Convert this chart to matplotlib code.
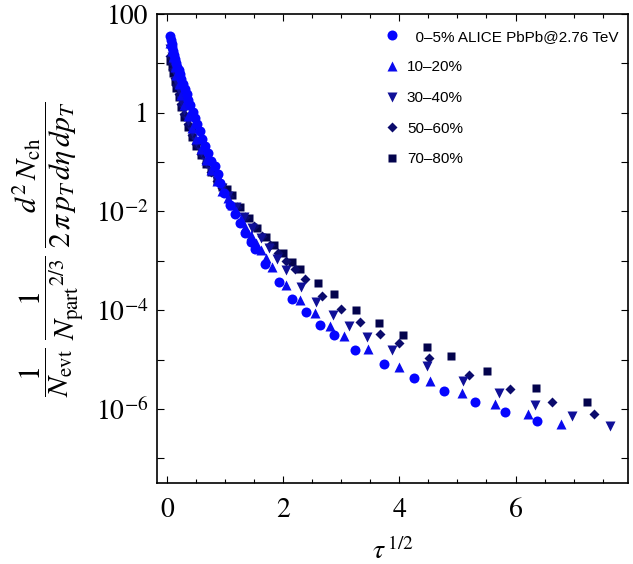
import matplotlib
matplotlib.use('Agg')
import matplotlib.pyplot as plt
import matplotlib.ticker as mticker
from matplotlib.lines import Line2D

# 0-5%  (circles)
x_c0 = [0.06, 0.07, 0.08, 0.09, 0.10, 0.12, 0.14, 0.16, 0.18, 0.20, 0.22, 0.25, 0.28,
        0.31, 0.34, 0.37, 0.40, 0.44, 0.48, 0.52, 0.56, 0.61, 0.66, 0.71, 0.76, 0.82,
        0.87, 0.92, 0.98, 1.08, 1.17, 1.26, 1.34, 1.45, 1.52, 1.69, 1.93, 2.15, 2.39,
        2.63, 2.87, 3.24, 3.74, 4.25, 4.77, 5.30, 5.82, 6.37]
y_c0 = [36, 30, 25, 21, 18, 14.5, 12, 10.2, 8.6, 7.3, 6.1, 4.8, 3.8,
        3.0, 2.35, 1.85, 1.45, 1.05, 0.78, 0.58, 0.43, 0.30, 0.21, 0.15, 0.105, 0.085,
        0.058, 0.038, 0.024, 0.0136, 0.0089, 0.0059, 0.0037, 0.0024, 0.0017, 8.6e-4,
        3.7e-4, 1.7e-4, 9.2e-5, 5.0e-5, 3.1e-5, 1.6e-5, 8.1e-6, 4.2e-6, 2.3e-6,
        1.4e-6, 8.6e-7, 5.7e-7]

# 10-20%  (up triangles)
x_c1 = [0.06, 0.08, 0.10, 0.13, 0.16, 0.20, 0.25, 0.30, 0.36, 0.43, 0.50, 0.58, 0.67,
        0.76, 0.86, 0.95, 1.05, 1.12, 1.19, 1.27, 1.35, 1.44, 1.53, 1.62, 1.71, 1.81,
        2.05, 2.29, 2.55, 2.81, 3.05, 3.46, 3.99, 4.53, 5.08, 5.65, 6.21, 6.78]
y_c1 = [26.3, 18.2, 13.2, 8.5, 5.9, 3.8, 2.3, 1.45, 0.87, 0.50, 0.30, 0.186, 0.11,
        0.068, 0.041, 0.026, 0.0186, 0.0138, 0.0100, 0.0069, 0.0049, 0.0034, 0.00234,
        0.00166, 0.00112, 7.5e-4, 3.24e-4, 1.61e-4, 8.77e-5, 4.79e-5, 3.0e-5, 1.63e-5,
        7.05e-6, 3.66e-6, 2.09e-6, 1.25e-6, 7.85e-7, 4.92e-7]

# 30-40%  (down triangles)
x_c2 = [0.06, 0.08, 0.10, 0.13, 0.16, 0.20, 0.25, 0.30, 0.36, 0.43, 0.50, 0.58, 0.67,
        0.76, 0.86, 0.95, 1.05, 1.19, 1.33, 1.47, 1.61, 1.75, 1.90, 2.05, 2.31, 2.57,
        2.86, 3.13, 3.44, 3.87, 4.48, 5.10, 5.71, 6.33, 6.97, 7.63]
y_c2 = [19.1, 13.2, 9.5, 6.3, 4.4, 2.9, 1.74, 1.12, 0.68, 0.40, 0.25, 0.158, 0.10,
        0.065, 0.042, 0.0295, 0.021, 0.0126, 0.0076, 0.0047, 0.0029, 0.00178, 0.00107,
        6.53e-4, 2.96e-4, 1.47e-4, 8.0e-5, 4.79e-5, 2.86e-5, 1.56e-5, 7.38e-6, 3.66e-6,
        2.09e-6, 1.19e-6, 7.14e-7, 4.48e-7]

# 50-60%  (diamonds)
x_c3 = [0.06, 0.08, 0.10, 0.13, 0.16, 0.20, 0.25, 0.30, 0.36, 0.43, 0.50, 0.58, 0.67,
        0.76, 0.86, 0.95, 1.07, 1.21, 1.35, 1.49, 1.63, 1.77, 1.91, 2.05, 2.20, 2.38,
        2.67, 3.00, 3.32, 3.67, 3.99, 4.51, 5.20, 5.90, 6.63, 7.35]
y_c3 = [14.1, 10.2, 7.6, 5.1, 3.6, 2.4, 1.48, 0.95, 0.59, 0.355, 0.229, 0.148, 0.095,
        0.063, 0.042, 0.030, 0.0204, 0.01245, 0.00776, 0.0050, 0.00324, 0.00214,
        0.00145, 0.0010, 6.8e-4, 4.3e-4, 1.94e-4, 1.06e-4, 5.77e-5, 3.29e-5, 2.16e-5,
        1.07e-5, 4.85e-6, 2.52e-6, 1.37e-6, 7.85e-7]

# 70-80%  (squares)
x_c4 = [0.06, 0.08, 0.10, 0.13, 0.16, 0.20, 0.25, 0.30, 0.36, 0.43, 0.50, 0.58, 0.67,
        0.76, 0.86, 0.95, 1.03, 1.12, 1.26, 1.41, 1.55, 1.70, 1.84, 2.00, 2.15, 2.29,
        2.60, 2.87, 3.25, 3.65, 4.06, 4.48, 4.89, 5.51, 6.35, 7.23]
y_c4 = [11.2, 8.3, 6.3, 4.4, 3.2, 2.1, 1.29, 0.83, 0.52, 0.32, 0.21, 0.14, 0.093,
        0.063, 0.042, 0.032, 0.028, 0.0217, 0.0124, 0.0074, 0.00465, 0.00305, 0.0021,
        0.00145, 9.5e-4, 6.85e-4, 3.56e-4, 2.13e-4, 1.01e-4, 5.5e-5, 3.14e-5, 1.79e-5,
        1.18e-5, 5.85e-6, 2.64e-6, 1.37e-6]

labels = ['  0\u20135% ALICE PbPb@2.76 TeV', '10\u201320%', '30\u201340%', '50\u201360%', '70\u201380%']
colors = ['#0505ff', '#0a0aee', '#101098', '#0b0b6c', '#03034c']
markers = ['o', '^', 'v', 'D', 's']
msizes = [7.2, 7.2, 7.2, 5.4, 6.4]

plt.rcParams['font.family'] = ['STIXGeneral', 'DejaVu Serif']
plt.rcParams['mathtext.fontset'] = 'stix'

fig = plt.figure(figsize=(6.33, 5.64), dpi=100)
ax = fig.add_axes([0.248, 0.1436, 0.744, 0.8316])

series = [(x_c0, y_c0), (x_c1, y_c1), (x_c2, y_c2), (x_c3, y_c3), (x_c4, y_c4)]
# dark ones first so the blue lies on top at the head
for i in [4, 3, 2, 1, 0]:
    xs, ys = series[i]
    ax.plot(xs, ys, linestyle='none', marker=markers[i], ms=msizes[i],
            color=colors[i], mec='none')

ax.set_yscale('log')
ax.set_xlim(-0.172, 7.935)
ax.set_ylim(10 ** -7.5, 100)

ax.xaxis.set_major_locator(mticker.FixedLocator([0, 2, 4, 6]))
ax.xaxis.set_minor_locator(mticker.MultipleLocator(0.5))
ax.yaxis.set_major_locator(mticker.FixedLocator([10.0 ** k for k in range(-7, 3)]))
ax.yaxis.set_minor_locator(mticker.NullLocator())

ylab = {2: '100', 0: '1', -2: r'$10^{-2}$', -4: r'$10^{-4}$', -6: r'$10^{-6}$'}
ax.yaxis.set_major_formatter(mticker.FixedFormatter(
    [ylab.get(k, '') for k in range(-7, 3)]))

ax.tick_params(which='both', direction='in', top=True, right=True, labelsize=20, width=0.8)
ax.tick_params(which='major', length=5)
ax.tick_params(which='minor', length=3)
ax.tick_params(axis='x', which='major', pad=11)
ax.tick_params(axis='y', which='major', pad=6)
for s in ax.spines.values():
    s.set_linewidth(1.2)

ax.set_xlabel(r'$\tau^{\,1/2}$', fontsize=20, labelpad=10)
fig.text(0.076, 0.5585,
         r'$\dfrac{1}{N_{\rm evt}}\;\dfrac{1}{{N_{\rm part}}^{2/3}}\;'
         r'\dfrac{d^2\,N_{\rm ch}}{2\,\pi\,p_T\,d\eta\,dp_T}$',
         fontsize=21.5, rotation=90, ha='center', va='center')

handles = [Line2D([], [], linestyle='none', marker=markers[i], ms=msizes[i],
                  color=colors[i], mec='none') for i in range(5)]
ax.legend(handles, labels, loc='upper left', bbox_to_anchor=(0.486, 0.9665),
          frameon=False, borderpad=0, borderaxespad=0, handlelength=0.8,
          handletextpad=0.58, labelspacing=1.09,
          prop={'family': 'Liberation Sans', 'size': 11})

fig.savefig('out.png', dpi=100)
